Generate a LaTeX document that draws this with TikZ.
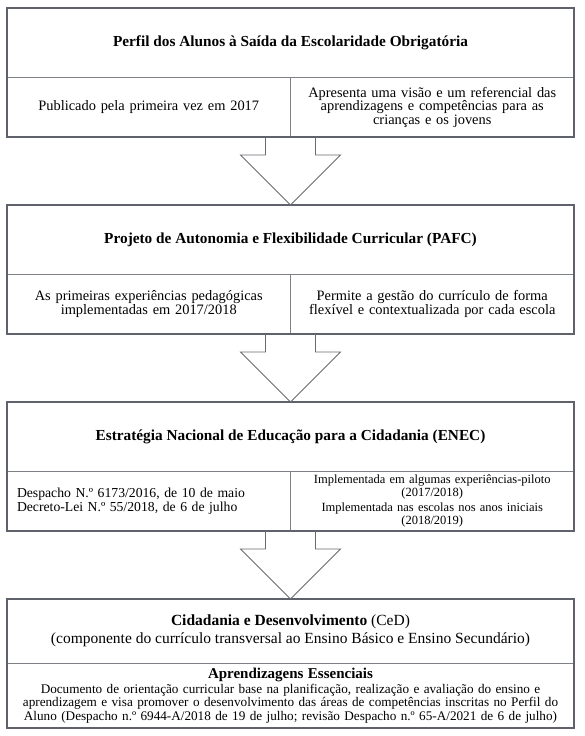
\documentclass[tikz,border=0pt]{standalone}
\usepackage{fontspec}
\setmainfont{Liberation Serif}
\usetikzlibrary{positioning,calc,fit}

\definecolor{framegray}{RGB}{95,98,106}
\definecolor{linegray}{RGB}{125,128,134}
\definecolor{arrowgray}{RGB}{105,106,112}

% font size with forced (tight) line spacing
\newcommand{\fsz}[2]{\fontsize{#1}{#2}\selectfont\lineskiplimit=-20pt\relax}

\begin{document}
\begin{tikzpicture}[
    font=\fsz{14.4}{13.5},
    node distance=0pt,
    head/.style={draw=linegray, line width=0.8pt, minimum width=567pt, minimum height=69pt, inner sep=0pt, outer sep=0pt, align=center, font=\fsz{15.3}{16}\bfseries},
    cell/.style={draw=linegray, line width=0.8pt, minimum width=283.5pt, minimum height=60pt, inner sep=3pt, outer sep=0pt, text width=277.5pt, align=center},
    frame/.style={draw=framegray, line width=1.6pt, inner sep=0pt},
    blockarrow/.style={draw=arrowgray, line width=0.8pt, line join=miter}
]
\useasboundingbox (0,0) rectangle (584pt,-736pt);

% Perfil dos Alunos
\node[head, anchor=north west] (perfil) at (7pt,-8pt) {Perfil dos Alunos à Saída da Escolaridade Obrigatória};
\node[cell, below right=0pt of perfil.south west] (perfilL) {Publicado pela primeira vez em 2017};
\node[cell, right=0pt of perfilL] (perfilR) {Apresenta uma visão e um referencial das\\ aprendizagens e competências para as\\ crianças e os jovens};
\node[frame, fit=(perfil)(perfilL)(perfilR)] {};

% PAFC
\node[head, below=68pt of perfilL.south east] (pafc) {Projeto de Autonomia e Flexibilidade Curricular (PAFC)};
\node[cell, below right=0pt of pafc.south west] (pafcL) {As primeiras experiências pedagógicas\\ implementadas em 2017/2018};
\node[cell, right=0pt of pafcL] (pafcR) {Permite a gestão do currículo de forma\\ flexível e contextualizada por cada escola};
\node[frame, fit=(pafc)(pafcL)(pafcR)] {};

% ENEC
\node[head, below=68pt of pafcL.south east] (enec) {Estratégia Nacional de Educação para a Cidadania (ENEC)};
\node[cell, below right=0pt of enec.south west, align=left, inner xsep=10pt, text width=263.5pt, font=\fsz{13.7}{14}] (enecL) {Despacho N.º 6173/2016, de 10 de maio\\ Decreto-Lei N.º 55/2018, de 6 de julho};
\node[cell, right=0pt of enecL, inner sep=1pt, font=\fsz{12.5}{12.8}] (enecR) {Implementada em algumas experiências-piloto\\ (2017/2018)\\[2pt] Implementada nas escolas nos anos iniciais\\ (2018/2019)};
\node[frame, fit=(enec)(enecL)(enecR)] {};

% CeD
\node[head, below=68pt of enecL.south east, minimum height=64pt, font=\fsz{15.5}{18}] (ced) {\textbf{Cidadania e Desenvolvimento} (CeD)\\ (componente do currículo transversal ao Ensino Básico e Ensino Secundário)};
\node[head, below=0pt of ced, minimum height=65pt, text width=560pt, font=\fsz{13.2}{13.6}] (ess) {{\fsz{15}{15}\bfseries Aprendizagens Essenciais}\\[1pt] Documento de orientação curricular base na planificação, realização e avaliação do ensino e\\ aprendizagem e visa promover o desenvolvimento das áreas de competências inscritas no Perfil do\\ Aluno (Despacho n.º 6944-A/2018 de 19 de julho; revisão Despacho n.º 65-A/2021 de 6 de julho)};
\node[frame, fit=(ced)(ess)] {};

% block arrows
\draw[blockarrow] ($(perfilL.south east)+(-25pt,0)$) -- ++(0,-18pt) -- ++(-25pt,0) -- (pafc.north) -- ($(perfilL.south east)+(50pt,-18pt)$) -- ++(-25pt,0) -- ++(0,18pt);
\draw[blockarrow] ($(pafcL.south east)+(-25pt,0)$) -- ++(0,-18pt) -- ++(-25pt,0) -- (enec.north) -- ($(pafcL.south east)+(50pt,-18pt)$) -- ++(-25pt,0) -- ++(0,18pt);
\draw[blockarrow] ($(enecL.south east)+(-25pt,0)$) -- ++(0,-18pt) -- ++(-25pt,0) -- (ced.north) -- ($(enecL.south east)+(50pt,-18pt)$) -- ++(-25pt,0) -- ++(0,18pt);
\end{tikzpicture}
\end{document}
